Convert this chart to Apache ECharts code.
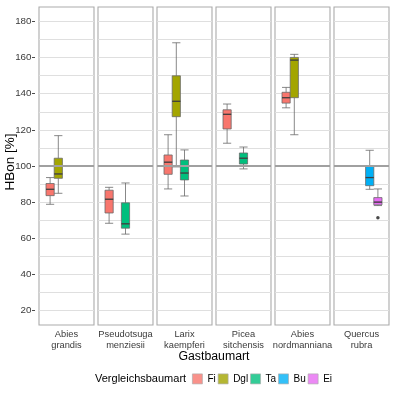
<!DOCTYPE html>
<html><head><meta charset="utf-8">
<script src="https://cdn.jsdelivr.net/npm/echarts@6/dist/echarts.min.js"></script>
<style>html,body{margin:0;padding:0;background:#fff}#c{width:395px;height:393px}</style>
</head><body><div id="c"></div>
<script>
const facets = ['Abies\ngrandis','Pseudotsuga\nmenziesii','Larix\nkaempferi','Picea\nsitchensis','Abies\nnordmanniana','Quercus\nrubra'];
const species = ['Fi','Dgl','Ta','Bu','Ei'];
const speciesColors = ['#F8766D','#A3A500','#00BF7D','#00B0F6','#E76BF3'];
const yTicks = [20,40,60,80,100,120,140,160,180];
const yGrid = [20,30,40,50,60,70,80,90,100,110,120,130,140,150,160,170,180];
const refValue = 100;
// [species, min, Q1, median, Q3, max]
const boxesAbiesGrandis = [['Fi',78.8,83.6,87.1,90.3,93.6],['Dgl',84.9,93.2,95.6,104.3,116.8]];
const boxesPseudotsuga = [['Fi',68.3,74.0,81.6,86.6,88.2],['Ta',62.3,65.6,68.0,79.6,90.6]];
const boxesLarix = [['Fi',87.3,95.4,102.1,106.1,117.3],['Dgl',99.5,127.3,135.8,149.9,168.2],['Ta',83.4,92.3,96.1,103.3,108.9]];
const boxesPicea = [['Fi',112.6,120.5,128.6,131.1,134.3],['Ta',98.4,101.1,104.3,107.2,110.5]];
const boxesNordmanniana = [['Fi',132.2,134.8,137.8,140.8,143.5],['Dgl',117.3,137.8,158.6,160.1,161.8]];
const boxesQuercus = [['Bu',87.1,89.1,93.6,100.2,108.7],['Ei',78.1,78.5,80.0,82.5,87.3]];
const boxesByFacet = [boxesAbiesGrandis,boxesPseudotsuga,boxesLarix,boxesPicea,boxesNordmanniana,boxesQuercus];
// [facet, species, value]
const outliers = [['Quercus\nrubra','Ei',71.4]];

const FONT = 'Liberation Sans, Arial, sans-serif';
const P_LEFT = 39, P_STEP = 59, P_W = 55, P_TOP = 7, P_H = 318, IN_PAD = 7, IN_W = 41;
const Y_MIN = 12, Y_MAX = 188;

const grid = [], xAxis = [], yAxis = [], series = [];
facets.forEach((f, k) => {
  const left = P_LEFT + P_STEP * k;
  grid.push({left: left, top: P_TOP, width: P_W, height: P_H, show: true, borderColor: '#ABABAB', borderWidth: 1.1, backgroundColor: '#fff'});
  grid.push({left: left + IN_PAD, top: P_TOP, width: IN_W, height: P_H});
  xAxis.push({gridIndex: 2*k, type: 'category', data: [f], axisLine: {show: false}, axisTick: {show: false},
    axisLabel: {fontSize: 9.3, color: '#3A3A3A', lineHeight: 11, margin: 4, fontFamily: FONT, interval: 0}});
  xAxis.push({gridIndex: 2*k+1, type: 'category', data: species, show: false});
  yAxis.push({gridIndex: 2*k, type: 'value', min: Y_MIN, max: Y_MAX, axisLine: {show: false},
    axisTick: {show: false, customValues: yGrid}, axisLabel: {show: false, customValues: yGrid},
    splitLine: {show: true, lineStyle: {color: '#DFDFDF', width: 1}}});
  yAxis.push({gridIndex: 2*k+1, type: 'value', min: Y_MIN, max: Y_MAX, show: false, splitLine: {show: false}});

  series.push({type: 'line', xAxisIndex: 2*k, yAxisIndex: 2*k, data: [[f, refValue]], showSymbol: false, silent: true,
    lineStyle: {width: 0}, z: 1,
    markLine: {silent: true, symbol: ['none','none'], label: {show: false}, animation: false,
      lineStyle: {color: '#A0A0A0', width: 2, type: 'solid'}, data: [{yAxis: refValue}]}});

  const boxes = boxesByFacet[k];
  series.push({type: 'boxplot', name: 'box' + k, xAxisIndex: 2*k+1, yAxisIndex: 2*k+1, boxWidth: [8.2, 8.2],
    encode: {x: 0, y: [1,2,3,4,5]}, z: 3,
    itemStyle: {borderColor: '#6A6A6A', borderWidth: 0.8},
    data: boxes.map(b => {
      const i = species.indexOf(b[0]);
      return {value: [i, b[1], b[2], b[3], b[4], b[5]], itemStyle: {color: speciesColors[i]}};
    })});
  series.push({type: 'scatter', xAxisIndex: 2*k+1, yAxisIndex: 2*k+1, symbol: 'rect', symbolSize: [8.2, 1.3], silent: true, z: 4,
    itemStyle: {color: '#333333'}, data: boxes.map(b => [species.indexOf(b[0]), b[3]])});
  const outs = outliers.filter(o => o[0] === f);
  if (outs.length) {
    series.push({type: 'scatter', xAxisIndex: 2*k+1, yAxisIndex: 2*k+1, symbol: 'circle', symbolSize: 3.5, z: 4, silent: true,
      itemStyle: {color: '#1A1A1A'}, data: outs.map(o => [species.indexOf(o[1]), o[2]])});
  }
});
yAxis.push({gridIndex: 0, type: 'value', min: Y_MIN, max: Y_MAX, position: 'left', offset: 4, axisLine: {show: false},
  axisTick: {show: true, length: 3, customValues: yTicks, lineStyle: {color: '#4D4D4D'}},
  axisLabel: {customValues: yTicks, fontSize: 9.8, color: '#3A3A3A', margin: 3.5, fontFamily: FONT},
  splitLine: {show: false}});

species.forEach((s, i) => {
  series.push({type: 'scatter', name: s, xAxisIndex: 1, yAxisIndex: 1, data: [], itemStyle: {color: speciesColors[i]}});
});

const option = {
  animation: false,
  grid, xAxis, yAxis, series,
  legend: {data: species.map(s => ({name: s, icon: 'rect'})), left: 192, top: 373.5, itemWidth: 10, itemHeight: 10, itemGap: 2,
    padding: 0, selectedMode: false, textStyle: {fontSize: 10, color: '#000', fontFamily: FONT},
    itemStyle: {borderColor: '#AAAAAA', borderWidth: 0.8}},
  graphic: [
    {type: 'text', x: 214, y: 356.5, style: {text: 'Gastbaumart', align: 'center', verticalAlign: 'middle', fontSize: 12.3, fontFamily: FONT, fill: '#000'}},
    {type: 'text', x: 95, y: 378.5, style: {text: 'Vergleichsbaumart', align: 'left', verticalAlign: 'middle', fontSize: 11, fontFamily: FONT, fill: '#000'}},
    {type: 'text', x: 10, y: 162, rotation: Math.PI / 2, style: {text: 'HBon [%]', align: 'center', verticalAlign: 'middle', fontSize: 13.5, fontFamily: FONT, fill: '#000'}}
  ]
};
const chart = echarts.init(document.getElementById('c'), null, {renderer: 'canvas'});
chart.setOption(option);
</script></body></html>
